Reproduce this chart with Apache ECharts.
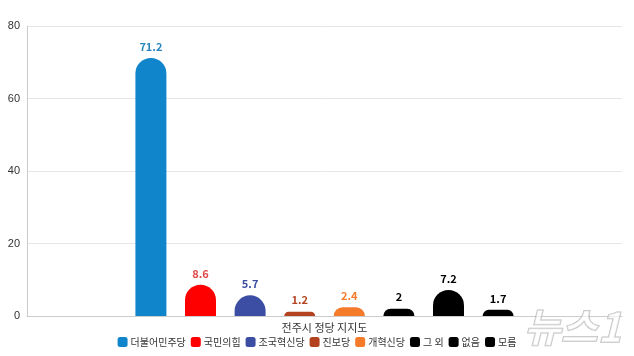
<!DOCTYPE html>
<html><head><meta charset="utf-8">
<script src="https://cdn.jsdelivr.net/npm/echarts@6/dist/echarts.min.js"></script>
<style>html,body{margin:0;padding:0;background:#fff}#c{width:634px;height:356px}</style>
</head><body><div id="c"></div>
<script>
const categories = ['전주시 정당 지지도'];
const seriesNames = ['더불어민주당','국민의힘','조국혁신당','진보당','개혁신당','그 외','없음','모름'];
const seriesValues = [71.2, 8.6, 5.7, 1.2, 2.4, 2, 7.2, 1.7];
const seriesColors = ['#1185cc','#ff0000','#3b4ea3','#b3421f','#f57b2b','#000000','#000000','#000000'];
const labelColors = ['#2a86bf','#e04848','#3b4ea3','#b3421f','#f57b2b','#000000','#000000','#000000'];
const yTicks = {min:0, max:80, interval:20};

const font = '"Noto Sans CJK KR","Noto Sans",sans-serif';
const chart = echarts.init(document.getElementById('c'), null, {renderer:'canvas'});
chart.setOption({
  animation:false,
  textStyle:{fontFamily:font},
  grid:{left:27, right:12, top:26, bottom:40},
  legend:{
    bottom:4, left:'center', itemWidth:10, itemHeight:10, itemGap:5,
    icon:'roundRect',
    textStyle:{fontSize:10, color:'#333', fontFamily:font, padding:[0,0,0,-2]},
    data:seriesNames
  },
  xAxis:{
    type:'category', data:categories,
    axisLine:{lineStyle:{color:'#ccc'}}, axisTick:{show:false},
    axisLabel:{color:'#333', fontSize:11, margin:6, fontFamily:font}
  },
  yAxis:{
    type:'value', min:yTicks.min, max:yTicks.max, interval:yTicks.interval,
    axisLine:{show:true, lineStyle:{color:'#ccc'}}, axisTick:{show:false},
    splitLine:{lineStyle:{color:'#e6e6e6'}},
    axisLabel:{color:'#333', fontSize:11, margin:7, fontFamily:'"Liberation Sans",Arial,sans-serif'}
  },
  graphic:[{
    type:'text', right:12, bottom:8, z:100,
    style:{text:'뉴스1', font:'italic bold 40px "Noto Sans CJK KR"', fill:'rgba(255,255,255,0.6)', stroke:'rgba(150,150,150,0.6)', lineWidth:1.5}
  }],
  series: seriesNames.map((n,i)=>({
    name:n, type:'bar', data:[seriesValues[i]],
    barWidth:31, barGap:'60%',
    itemStyle:{color:seriesColors[i], borderRadius:[15.5,15.5,0,0]},
    label:{show:true, position:'top', distance:6, color:labelColors[i], fontSize:11, fontWeight:'bold', fontFamily:font}
  }))
});
</script></body></html>
